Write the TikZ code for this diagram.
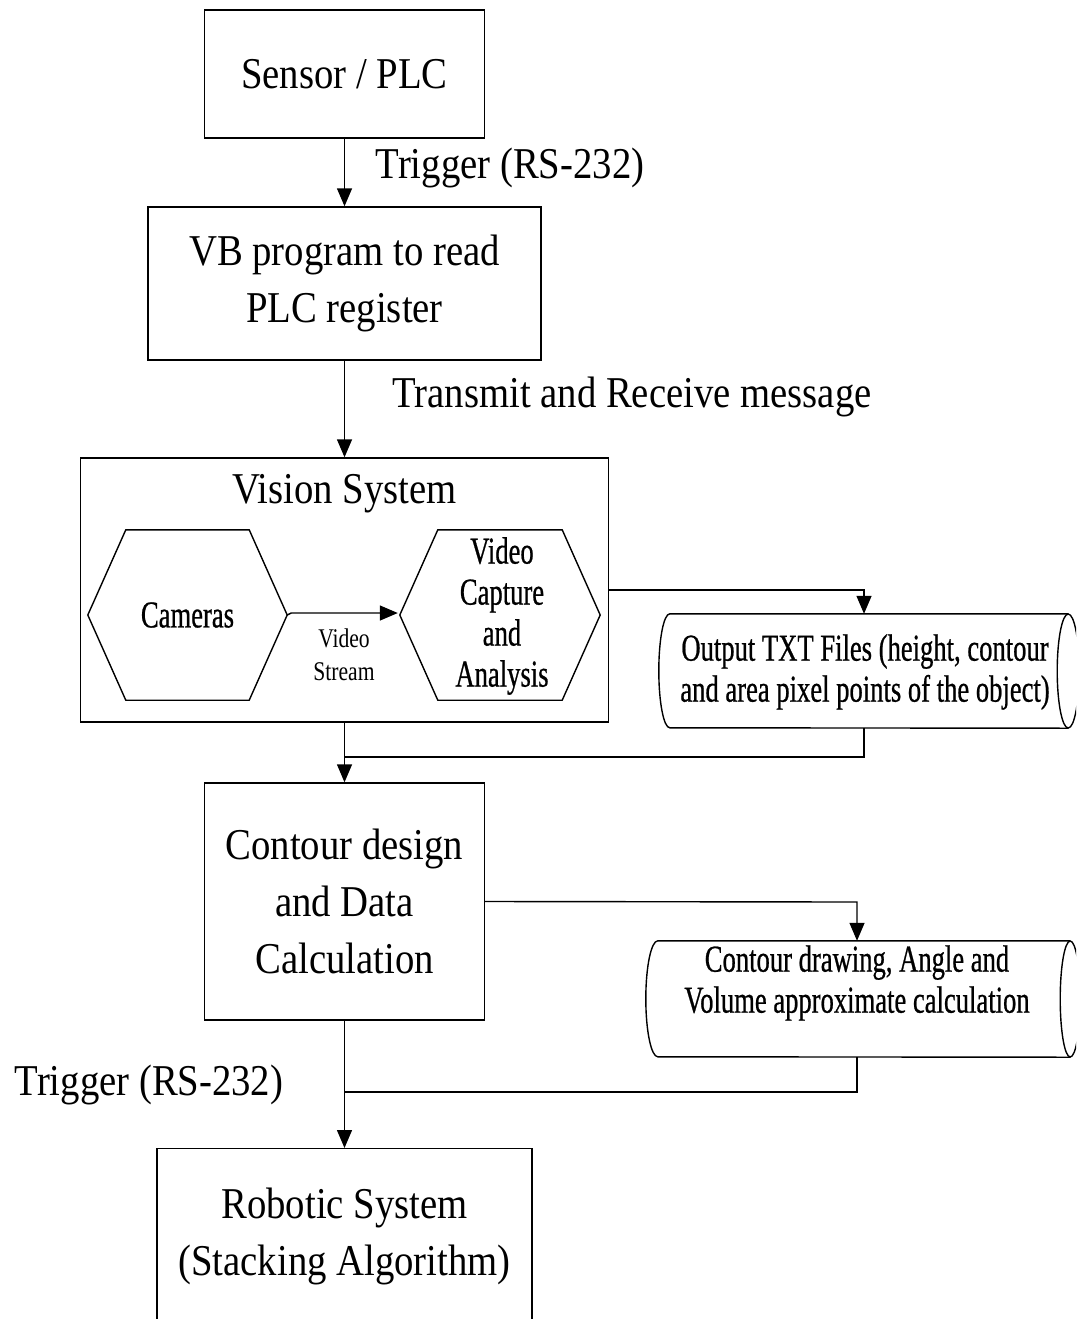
\documentclass[tikz,border=0pt]{standalone}
\usepackage{fontspec}
\setmainfont{Liberation Serif}[FakeStretch=0.88]
\newfontfamily\condfont{Liberation Serif}[FakeStretch=0.7, FakeBold=0.6]
\newfontfamily\midfont{Liberation Serif}[FakeStretch=0.8]
\usetikzlibrary{arrows.meta}

\tikzset{
  line/.style={draw=black, line width=1.4pt},
  arr/.style={line, -{Triangle[width=15pt,length=18pt]}},
  box/.style={line, rectangle, inner sep=0pt, align=center,
    font=\fontsize{44}{57}\selectfont},
  ghost/.style={rectangle, inner sep=0pt},
  bigtxt/.style={inner sep=0pt, align=center, font=\fontsize{44}{57}\selectfont},
  condtxt/.style={inner sep=0pt, align=center, font=\condfont\fontsize{38}{41}\selectfont},
  smalltxt/.style={inner sep=0pt, align=center, font=\midfont\fontsize{27}{33}\selectfont},
}

\begin{document}
\begin{tikzpicture}[x=1pt, y=-1pt]
\useasboundingbox (0,0) rectangle (1076,1319);
\clip (0,0) rectangle (1076,1319);
\fill[white] (0,0) rectangle (1076,1319);

% main boxes
\node[box, minimum width=280, minimum height=128] (sensor) at (344.5,74) {Sensor / PLC};
\node[box, minimum width=393, minimum height=153] (vb) at (344.5,283.5) {VB program to read\\PLC register};
\node[box, minimum width=528, minimum height=264] (vision) at (344.5,590) {};
\node[bigtxt] (visiontitle) at (344.5,494) {Vision System};
\node[box, minimum width=280, minimum height=237] (contour) at (344.5,901.5) {Contour design\\and Data\\Calculation};
\node[box, minimum width=375, minimum height=220, anchor=north] (robot) at (344.5,1148) {};
\node[bigtxt] (robottxt) at (344.5,1236) {Robotic System\\(Stacking Algorithm)};

% hexagons inside the vision system
\node[ghost, minimum width=199, minimum height=170] (cams) at (187.5,615) {};
\node[ghost, minimum width=200, minimum height=170] (vca) at (500,615) {};
\foreach \n in {cams,vca}
  \draw[line] (\n.west) -- ([xshift=38]\n.north west) -- ([xshift=-38]\n.north east)
    -- (\n.east) -- ([xshift=-38]\n.south east) -- ([xshift=38]\n.south west) -- cycle;
\node[condtxt] (camstxt) at (187.5,615) {Cameras};
\node[condtxt] (vcatxt) at (502,616) {Video\\Capture\\and\\Analysis};

% stored data shapes
\node[ghost, minimum width=398, minimum height=114] (cyl1) at (869,671) {};
\draw[line] (cyl1.north east) -- (cyl1.north west)
  arc[start angle=270, end angle=90, x radius=11, y radius=57] -- (cyl1.south east);
\draw[line] (cyl1.east) ellipse[x radius=11, y radius=57];
\node[condtxt] (cyl1txt) at (865,672) {Output TXT Files (height, contour\\and area pixel points of the object)};

\node[ghost, minimum width=412, minimum height=116] (cyl2) at (864,999) {};
\draw[line] (cyl2.north east) -- (cyl2.north west)
  arc[start angle=270, end angle=90, x radius=12, y radius=58] -- (cyl2.south east);
\draw[line] (cyl2.east) ellipse[x radius=10, y radius=58];
\node[condtxt] (cyl2txt) at (857,983) {Contour drawing, Angle and\\Volume approximate calculation};

% connectors
\draw[arr] (sensor.south) -- (vb.north);
\node[bigtxt] (trig1) at (510,168) {Trigger (RS-232)};

\draw[arr] (vb.south) -- (vision.north);
\node[bigtxt] (txrx) at (632,397) {Transmit and Receive message};

\draw[arr] (cams.east) -- ++(4,-2) -- ([xshift=-2]vca.west |- 0,613);
\node[smalltxt] (vstream) at (344,655) {Video\\Stream};

\coordinate (c1) at (864,590);
\draw[arr] (vision.east) -- (c1) -- (c1 |- cyl1.north);
\coordinate (m1) at (864,757);
\draw[line] (m1 |- cyl1.south) -- (m1) -- (m1 -| vision.south);
\draw[arr] (vision.south) -- (contour.north);

\coordinate (c2) at (857,902);
\draw[arr] (contour.east) -- (c2) -- (c2 |- cyl2.north);
\coordinate (m2) at (857,1092);
\draw[line] (m2 |- cyl2.south) -- (m2) -- (m2 -| contour.south);
\draw[arr] (contour.south) -- (robot.north);
\node[bigtxt] (trig2) at (149,1085) {Trigger (RS-232)};
\end{tikzpicture}
\end{document}
